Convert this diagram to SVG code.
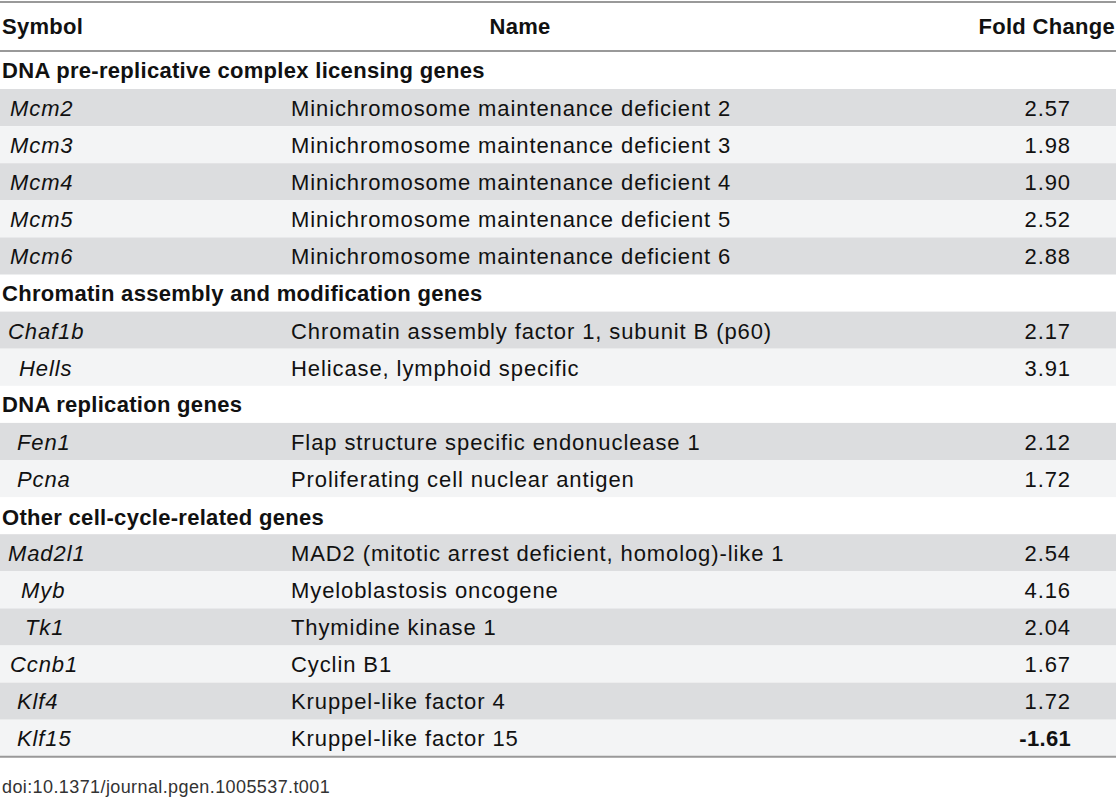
<svg xmlns="http://www.w3.org/2000/svg" width="1119" height="800" viewBox="0 0 1119 800">
<style>
text{font-family:"Liberation Sans",Arial,sans-serif;font-size:22px;fill:#111;letter-spacing:0.9px}
.b{font-weight:bold;letter-spacing:0.3px}.i{font-style:italic}.r{text-anchor:end}
.g{fill:#dcdddf}.l{fill:#f3f4f5}
</style>
<rect width="1119" height="800" fill="#fff"/>
<g id="rows">
<rect class="g" x="0" y="89" width="1116" height="37.1"/>
<rect class="l" x="0" y="126.1" width="1116" height="37.1"/>
<rect class="g" x="0" y="163.2" width="1116" height="37.1"/>
<rect class="l" x="0" y="200.3" width="1116" height="37.1"/>
<rect class="g" x="0" y="237.4" width="1116" height="37.1"/>
<rect class="g" x="0" y="311.6" width="1116" height="37.1"/>
<rect class="l" x="0" y="348.7" width="1116" height="37.1"/>
<rect class="g" x="0" y="422.9" width="1116" height="37.1"/>
<rect class="l" x="0" y="460" width="1116" height="37.1"/>
<rect class="g" x="0" y="534.2" width="1116" height="37.1"/>
<rect class="l" x="0" y="571.3" width="1116" height="37.1"/>
<rect class="g" x="0" y="608.4" width="1116" height="37.1"/>
<rect class="l" x="0" y="645.5" width="1116" height="37.1"/>
<rect class="g" x="0" y="682.6" width="1116" height="37.1"/>
<rect class="l" x="0" y="719.7" width="1116" height="37.1"/>
</g>
<g id="lines" stroke="#999" stroke-width="2">
<line x1="0" y1="2" x2="1116" y2="2"/>
<line x1="0" y1="51" x2="1116" y2="51"/>
<line x1="0" y1="756.8" x2="1116" y2="756.8"/>
</g>
<g id="header">
<text class="b" x="2" y="34">Symbol</text>
<text class="b" x="520" y="34" text-anchor="middle">Name</text>
<text class="b r" x="1115" y="34">Fold Change</text>
</g>
<g id="sections">
<text class="b" x="2" y="78">DNA pre-replicative complex licensing genes</text>
<text class="b" x="2" y="301">Chromatin assembly and modification genes</text>
<text class="b" x="2" y="412">DNA replication genes</text>
<text class="b" x="2" y="525">Other cell-cycle-related genes</text>
</g>
<g id="body">
<text class="i" x="10" y="116">Mcm2</text><text x="291" y="116">Minichromosome maintenance deficient 2</text><text class="r" x="1071" y="116">2.57</text>
<text class="i" x="10" y="153">Mcm3</text><text x="291" y="153">Minichromosome maintenance deficient 3</text><text class="r" x="1071" y="153">1.98</text>
<text class="i" x="10" y="190">Mcm4</text><text x="291" y="190">Minichromosome maintenance deficient 4</text><text class="r" x="1071" y="190">1.90</text>
<text class="i" x="10" y="227">Mcm5</text><text x="291" y="227">Minichromosome maintenance deficient 5</text><text class="r" x="1071" y="227">2.52</text>
<text class="i" x="10" y="264">Mcm6</text><text x="291" y="264">Minichromosome maintenance deficient 6</text><text class="r" x="1071" y="264">2.88</text>
<text class="i" x="8" y="339">Chaf1b</text><text x="291" y="339">Chromatin assembly factor 1, subunit B (p60)</text><text class="r" x="1071" y="339">2.17</text>
<text class="i" x="19" y="376">Hells</text><text x="291" y="376">Helicase, lymphoid specific</text><text class="r" x="1071" y="376">3.91</text>
<text class="i" x="17" y="450">Fen1</text><text x="291" y="450">Flap structure specific endonuclease 1</text><text class="r" x="1071" y="450">2.12</text>
<text class="i" x="17" y="487">Pcna</text><text x="291" y="487">Proliferating cell nuclear antigen</text><text class="r" x="1071" y="487">1.72</text>
<text class="i" x="8" y="561">Mad2l1</text><text x="291" y="561">MAD2 (mitotic arrest deficient, homolog)-like 1</text><text class="r" x="1071" y="561">2.54</text>
<text class="i" x="21" y="598">Myb</text><text x="291" y="598">Myeloblastosis oncogene</text><text class="r" x="1071" y="598">4.16</text>
<text class="i" x="25" y="635">Tk1</text><text x="291" y="635">Thymidine kinase 1</text><text class="r" x="1071" y="635">2.04</text>
<text class="i" x="10" y="672">Ccnb1</text><text x="291" y="672">Cyclin B1</text><text class="r" x="1071" y="672">1.67</text>
<text class="i" x="17" y="709">Klf4</text><text x="291" y="709">Kruppel-like factor 4</text><text class="r" x="1071" y="709">1.72</text>
<text class="i" x="17" y="746">Klf15</text><text x="291" y="746">Kruppel-like factor 15</text><text class="r b" x="1071" y="746">-1.61</text>
</g>
<text x="2" y="793" style="font-size:18px;fill:#333;letter-spacing:0.4px">doi:10.1371/journal.pgen.1005537.t001</text>
</svg>
